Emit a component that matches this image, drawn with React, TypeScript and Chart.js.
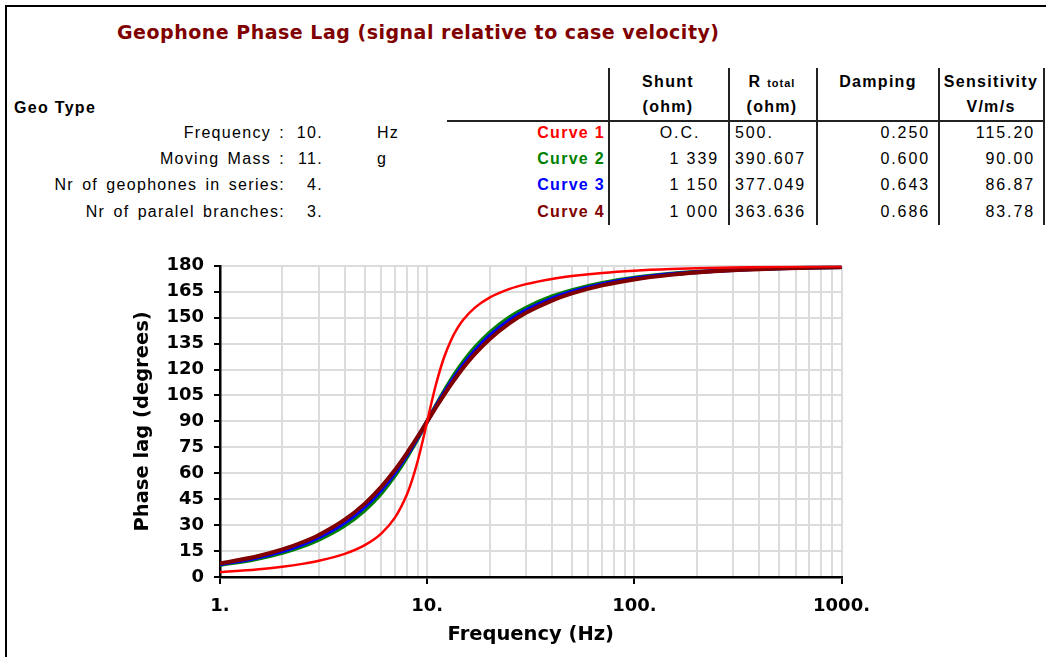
import React, { useEffect, useRef } from "react";
import { Chart, registerables } from "chart.js";

Chart.register(...registerables);

// ---------- chart data ----------
const FREQ_HZ = [1, 1.5, 2, 2.5, 3, 4, 5, 6, 7, 8, 8.5, 9, 9.5, 10, 10.5, 11, 12, 13, 14, 15, 17, 20, 25, 30, 40, 50, 70, 100, 150, 200, 300, 500, 700, 1000];
const CURVE_1 = [2.89, 4.39, 5.95, 7.59, 9.36, 13.39, 18.43, 25.11, 34.46, 48.01, 56.86, 67.11, 78.4, 90, 101.05, 110.9, 126.25, 136.7, 143.9, 149.04, 155.79, 161.57, 166.61, 169.38, 172.41, 174.05, 175.83, 177.11, 178.08, 178.56, 179.04, 179.43, 179.59, 179.71];
const CURVE_2 = [6.91, 10.43, 14.04, 17.74, 21.59, 29.74, 38.66, 48.37, 58.74, 69.44, 74.78, 80.02, 85.11, 90, 94.65, 99.04, 106.99, 113.85, 119.74, 124.78, 132.82, 141.34, 150.26, 155.77, 162.26, 165.96, 170.07, 173.09, 175.41, 176.56, 177.71, 178.62, 179.02, 179.31];
const CURVE_3 = [7.4, 11.16, 15.0, 18.93, 22.97, 31.48, 40.61, 50.33, 60.47, 70.71, 75.76, 80.68, 85.44, 90, 94.34, 98.44, 105.91, 112.43, 118.07, 122.94, 130.84, 139.39, 148.52, 154.25, 161.07, 165.0, 169.38, 172.6, 175.08, 176.31, 177.54, 178.53, 178.95, 179.26];
const CURVE_4 = [7.89, 11.89, 15.95, 20.1, 24.34, 33.16, 42.45, 52.13, 62.03, 71.84, 76.62, 81.25, 85.72, 90, 94.07, 97.92, 104.96, 111.15, 116.55, 121.27, 129.02, 137.55, 146.84, 152.78, 159.9, 164.05, 168.69, 172.11, 174.75, 176.07, 177.38, 178.43, 178.88, 179.21];

const Y_TICKS = [0, 15, 30, 45, 60, 75, 90, 105, 120, 135, 150, 165, 180];
const X_GRID = [1, 2, 3, 4, 5, 6, 7, 8, 9, 10, 20, 30, 40, 50, 60, 70, 80, 90, 100, 200, 300, 400, 500, 600, 700, 800, 900, 1000];
const X_MAJOR = [1, 10, 100, 1000];
const X_TICK_LABELS = ["1.", "10.", "100.", "1000."];

// ---------- table data ----------
const GEO_LABELS = ["Frequency :", "Moving Mass :", "Nr of geophones in series:", "Nr of paralel branches:"];
const GEO_VALUES = ["10.", "11.", "4.", "3."];
const GEO_UNITS = ["Hz", "g", "", ""];
const CURVE_NAMES = ["Curve 1", "Curve 2", "Curve 3", "Curve 4"];
const CURVE_COLORS = ["#ff0000", "#008000", "#0000ff", "#800000"];
const SHUNT = ["O.C.", "1 339", "1 150", "1 000"];
const R_TOTAL = ["500.", "390.607", "377.049", "363.636"];
const DAMPING = ["0.250", "0.600", "0.643", "0.686"];
const SENSITIVITY = ["115.20", "90.00", "86.87", "83.78"];

const ROW_Y = [133, 159, 185, 212];
const SANS = "'Liberation Sans', Arial, sans-serif";
const CHART_FONT = "'DejaVu Sans', Verdana, sans-serif";

type TxtProps = {
  x: number;
  y: number;
  align?: "left" | "right" | "center";
  style?: React.CSSProperties;
  children: React.ReactNode;
};

function Txt({ x, y, align = "left", style, children }: TxtProps) {
  const tx = align === "right" ? "-100%" : align === "center" ? "-50%" : "0";
  return (
    <div
      style={{
        position: "absolute",
        left: x,
        top: y,
        transform: `translate(${tx}, -50%)`,
        whiteSpace: "nowrap",
        lineHeight: 1.2,
        fontFamily: SANS,
        fontSize: 16,
        letterSpacing: "1.3px",
        wordSpacing: "2.5px",
        color: "#000",
        ...style,
      }}
    >
      {children}
    </div>
  );
}

const BOLD: React.CSSProperties = { fontWeight: "bold", letterSpacing: "1.3px", wordSpacing: "0px" };
const NUM: React.CSSProperties = { letterSpacing: "1.9px", wordSpacing: "0px" };

function PhaseChart() {
  const ref = useRef<HTMLCanvasElement | null>(null);
  useEffect(() => {
    const canvas = ref.current;
    if (!canvas) return;
    const mk = (vals: number[]) => FREQ_HZ.map((f, i) => ({ x: f, y: vals[i] }));
    const chart = new Chart(canvas, {
      type: "line",
      data: {
        datasets: [
          { label: CURVE_NAMES[0], data: mk(CURVE_1), borderColor: CURVE_COLORS[0], borderWidth: 2.5, order: 0 },
          { label: CURVE_NAMES[1], data: mk(CURVE_2), borderColor: CURVE_COLORS[1], borderWidth: 4, order: 3 },
          { label: CURVE_NAMES[2], data: mk(CURVE_3), borderColor: CURVE_COLORS[2], borderWidth: 4, order: 2 },
          { label: CURVE_NAMES[3], data: mk(CURVE_4), borderColor: CURVE_COLORS[3], borderWidth: 4, order: 1 },
        ],
      },
      options: {
        animation: false,
        responsive: false,
        maintainAspectRatio: false,
        events: [],
        layout: { padding: { left: 0, right: 16, top: 0, bottom: 0 } },
        plugins: { legend: { display: false }, tooltip: { enabled: false } },
        elements: {
          point: { radius: 0 },
          line: { cubicInterpolationMode: "monotone", borderJoinStyle: "round", borderCapStyle: "round", fill: false },
        },
        scales: {
          x: {
            type: "logarithmic",
            min: 1,
            max: 1000,
            afterBuildTicks: (s: any) => {
              s.ticks = X_GRID.map((v) => ({ value: v, major: X_MAJOR.includes(v) }));
            },
            afterFit: (s: any) => {
              s.height = 78;
            },
            ticks: {
              autoSkip: false,
              maxRotation: 0,
              minRotation: 0,
              padding: 12,
              color: "#000",
              font: { family: CHART_FONT, weight: "bold", size: 18 },
              callback: (v: any) => {
                const i = X_MAJOR.indexOf(Number(v));
                return i >= 0 ? X_TICK_LABELS[i] : "";
              },
            },
            grid: {
              color: "#dcdcdc",
              lineWidth: 2,
              tickLength: 7,
              tickWidth: 2,
              tickColor: (ctx: any) => (ctx.tick && X_MAJOR.includes(ctx.tick.value) ? "#000" : "rgba(0,0,0,0)"),
            },
            border: { color: "#000", width: 2.5 },
            title: {
              display: true,
              text: "Frequency (Hz)",
              color: "#000",
              font: { family: CHART_FONT, weight: "bold", size: 19.5, lineHeight: 1 },
              padding: { top: 0, bottom: 10 },
            },
          },
          y: {
            min: 0,
            max: 180,
            afterBuildTicks: (s: any) => {
              s.ticks = Y_TICKS.map((v) => ({ value: v }));
            },
            afterFit: (s: any) => {
              s.width = 110;
            },
            ticks: {
              autoSkip: false,
              padding: 10,
              color: "#000",
              font: { family: CHART_FONT, weight: "bold", size: 18 },
              callback: (v: any) => String(v),
            },
            grid: {
              color: "#dcdcdc",
              lineWidth: 2,
              tickLength: 6,
              tickWidth: 2,
              tickColor: "#000",
            },
            border: { color: "#000", width: 2.5 },
            title: {
              display: true,
              text: "Phase lag (degrees)",
              color: "#000",
              font: { family: CHART_FONT, weight: "bold", size: 19.5, lineHeight: 1 },
              padding: { top: 23, bottom: 0 },
            },
          },
        },
      } as any,
    });
    return () => chart.destroy();
  }, []);
  return (
    <canvas
      ref={ref}
      width={772}
      height={410}
      style={{ position: "absolute", left: 110, top: 245, width: 772, height: 410 }}
    />
  );
}

export default function App() {
  const vLines = [608, 728, 816, 938, 1043];
  return (
    <div
      style={{
        position: "absolute",
        left: 0,
        top: 0,
        width: 1046,
        height: 657,
        background: "#fff",
        overflow: "hidden",
      }}
    >
      {/* outer frame */}
      <div style={{ position: "absolute", left: 5, top: 5, width: 1060, height: 700, borderLeft: "2px solid #000", borderTop: "2px solid #000" }} />

      {/* title */}
      <Txt x={117} y={32} style={{ fontFamily: CHART_FONT, fontWeight: "bold", fontSize: 19, letterSpacing: "0.5px", wordSpacing: "0px", color: "#800000" }}>
        Geophone Phase Lag (signal relative to case velocity)
      </Txt>

      {/* left block */}
      <Txt x={14} y={108} style={BOLD}>Geo Type</Txt>
      {GEO_LABELS.map((t, i) => (
        <Txt key={"gl" + i} x={285} y={ROW_Y[i]} align="right">{t}</Txt>
      ))}
      {GEO_VALUES.map((t, i) => (
        <Txt key={"gv" + i} x={323} y={ROW_Y[i]} align="right">{t}</Txt>
      ))}
      {GEO_UNITS.map((t, i) => (
        <Txt key={"gu" + i} x={377} y={ROW_Y[i]}>{t}</Txt>
      ))}

      {/* table grid lines */}
      <div style={{ position: "absolute", left: 447, top: 120, width: 597, height: 2, background: "#222" }} />
      {vLines.map((x, i) => (
        <div key={"vl" + i} style={{ position: "absolute", left: x, top: 68, width: 1.5, height: 157, background: "#222" }} />
      ))}

      {/* headers */}
      <Txt x={668} y={82} align="center" style={BOLD}>Shunt</Txt>
      <Txt x={668} y={107} align="center" style={BOLD}>(ohm)</Txt>
      <Txt x={772} y={82} align="center" style={BOLD}>
        R <span style={{ fontSize: 11, letterSpacing: "1px" }}>total</span>
      </Txt>
      <Txt x={772} y={107} align="center" style={BOLD}>(ohm)</Txt>
      <Txt x={878} y={82} align="center" style={BOLD}>Damping</Txt>
      <Txt x={991} y={82} align="center" style={BOLD}>Sensitivity</Txt>
      <Txt x={991} y={107} align="center" style={BOLD}>V/m/s</Txt>

      {/* rows */}
      {CURVE_NAMES.map((t, i) => (
        <Txt key={"cn" + i} x={605} y={ROW_Y[i]} align="right" style={{ ...BOLD, color: CURVE_COLORS[i] }}>{t}</Txt>
      ))}
      {SHUNT.map((t, i) => (
        <Txt key={"sh" + i} x={i === 0 ? 680 : 719} y={ROW_Y[i]} align={i === 0 ? "center" : "right"} style={NUM}>{t}</Txt>
      ))}
      {R_TOTAL.map((t, i) => (
        <Txt key={"rt" + i} x={735} y={ROW_Y[i]} style={NUM}>{t}</Txt>
      ))}
      {DAMPING.map((t, i) => (
        <Txt key={"dp" + i} x={930} y={ROW_Y[i]} align="right" style={NUM}>{t}</Txt>
      ))}
      {SENSITIVITY.map((t, i) => (
        <Txt key={"se" + i} x={1035} y={ROW_Y[i]} align="right" style={NUM}>{t}</Txt>
      ))}

      <PhaseChart />
    </div>
  );
}
